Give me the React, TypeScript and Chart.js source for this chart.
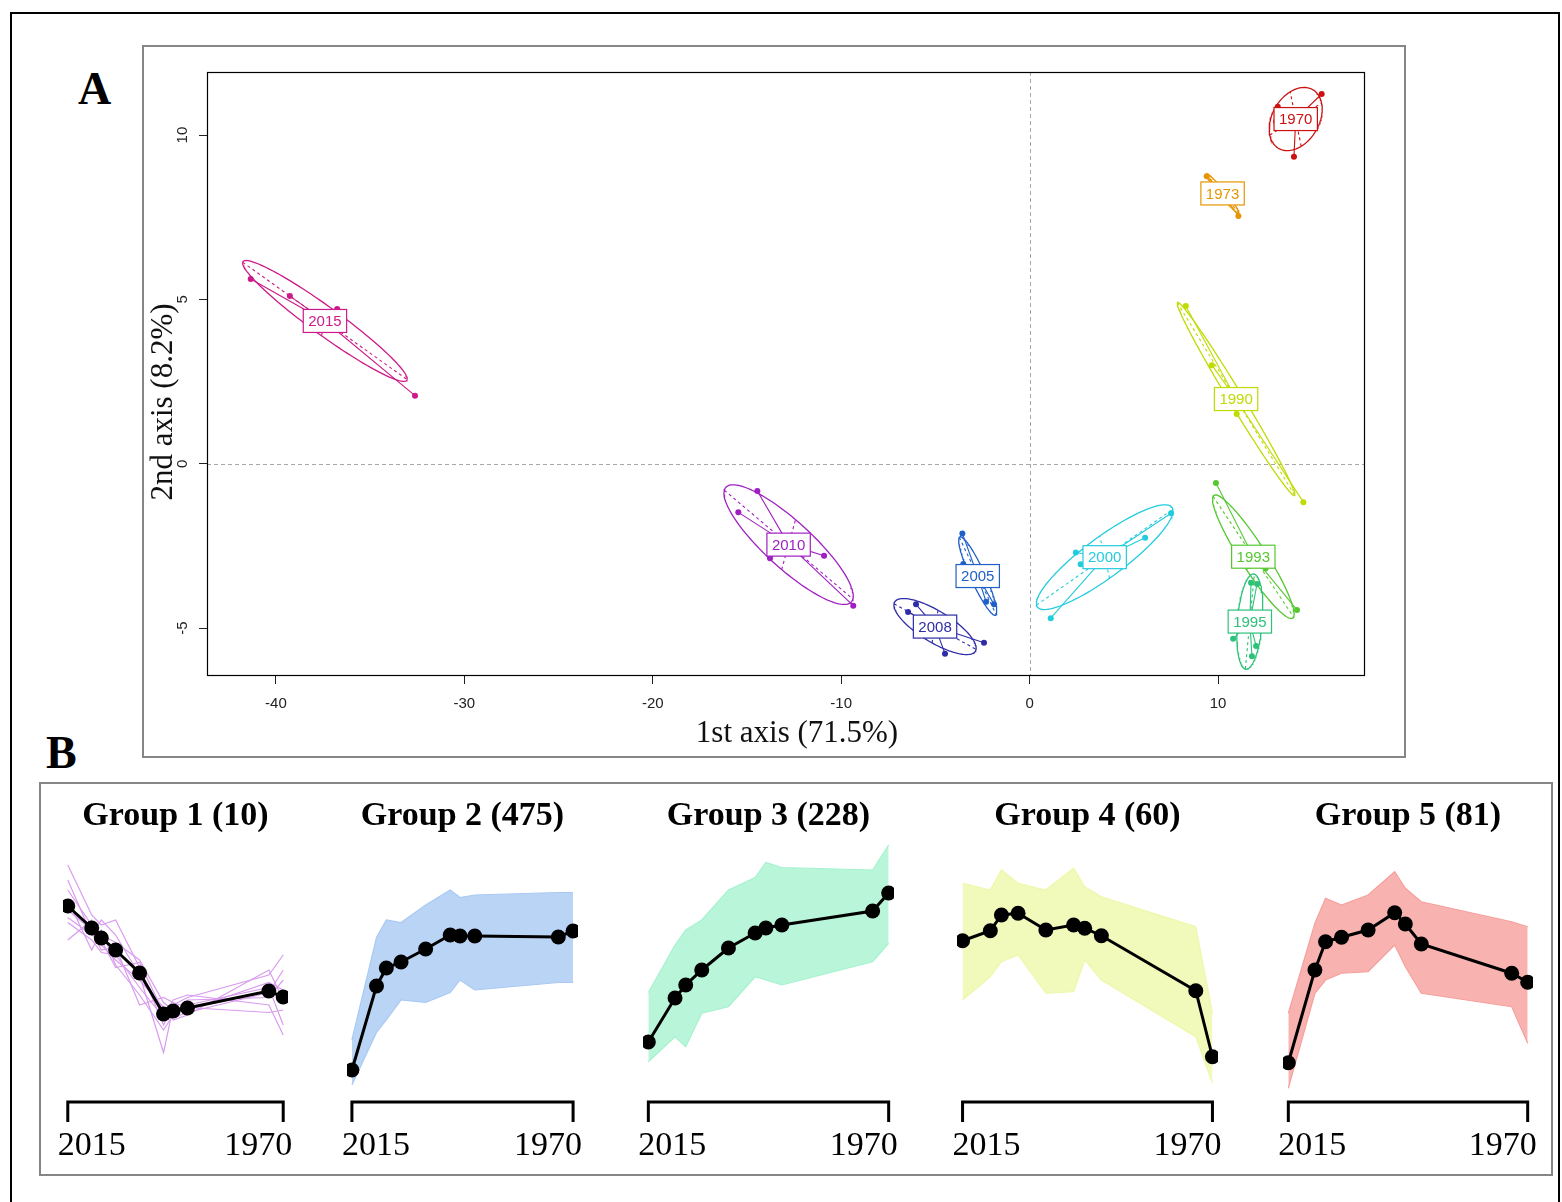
import React, { useEffect, useRef } from 'react';
import { Chart, registerables } from 'chart.js';
Chart.register(...registerables);

const SANS = "'Liberation Sans', Arial, Helvetica, sans-serif";
const SERIF = "'Liberation Serif', 'Times New Roman', Times, serif";

// ---------------- Panel A data (site scores per survey year) ----------------
const CLASS_LABELS = ['2015', '2010', '2008', '2005', '2000', '1995', '1993', '1990', '1973', '1970'];
const CLASS_COLORS = ['#CC1A88', '#A01FC2', '#2E2CA8', '#1F5FC8', '#22CCDD', '#2CC27A', '#55C830', '#BFDB00', '#E69500', '#CC1111'];
const PTS_2015 = [[-41.34, 5.62], [-39.26, 5.10], [-36.75, 4.71], [-32.62, 2.07], [-37.03, 4.22]];
const PTS_2010 = [[-14.45, -0.83], [-15.46, -1.48], [-10.91, -2.80], [-13.78, -2.88], [-9.36, -4.32]];
const PTS_2008 = [[-6.03, -4.28], [-2.42, -5.45], [-4.49, -5.78], [-6.45, -4.51], [-5.71, -4.76]];
const PTS_2005 = [[-3.57, -2.12], [-2.31, -4.20], [-1.89, -4.28], [-3.52, -3.05], [-2.48, -3.44]];
const PTS_2000 = [[7.51, -1.51], [6.13, -2.25], [2.45, -2.70], [2.71, -3.06], [1.12, -4.70]];
const PTS_1995 = [[11.75, -3.62], [10.80, -5.33], [12.02, -5.55], [11.80, -5.86], [12.07, -3.66]];
const PTS_1993 = [[9.89, -0.59], [14.19, -4.45], [11.06, -2.81], [11.70, -3.11], [12.52, -3.19]];
const PTS_1990 = [[8.29, 4.80], [9.67, 3.00], [10.99, 1.51], [14.53, -1.17], [11.31, 1.70]];
const PTS_1973 = [[9.40, 8.75], [11.08, 7.54], [9.84, 8.43], [10.32, 8.30], [10.56, 8.10]];
const PTS_1970 = [[15.50, 11.25], [14.03, 9.34], [13.17, 10.86], [14.83, 10.58], [13.08, 10.41]];
const CLASS_POINTS = [PTS_2015, PTS_2010, PTS_2008, PTS_2005, PTS_2000, PTS_1995, PTS_1993, PTS_1990, PTS_1973, PTS_1970];
const X_TICKS = [-40, -30, -20, -10, 0, 10];
const Y_TICKS = [-5, 0, 5, 10];
const X_TITLE = '1st axis (71.5%)';
const Y_TITLE = '2nd axis (8.2%)';

// ---------------- Panel B data (standardised profiles) ----------------
const YEARS = [2015, 2010, 2008, 2005, 2000, 1995, 1993, 1990, 1973, 1970];
const AXIS_END_LABELS = ['2015', '1970'];
const GROUP_TITLES = ['Group 1 (10)', 'Group 2 (475)', 'Group 3 (228)', 'Group 4 (60)', 'Group 5 (81)'];
const GROUP_COLORS = ['#D99BEF', '#A9C9F4', '#A6F2CF', '#EEF7AA', '#F6A09D'];
const GROUP_FILLS = ['rgba(217,155,239,0.8)', 'rgba(169,201,244,0.8)', 'rgba(166,242,207,0.8)', 'rgba(238,247,170,0.8)', 'rgba(246,160,157,0.8)'];

const G1_MEAN = [77.6, 68.8, 64.8, 60, 50.8, 34.4, 35.6, 36.8, 43.6, 41.2];
const G1_LINES = [
  [94, 74, 70, 72, 53, 30, 38, 41, 50, 58],
  [84, 70, 66, 63, 56, 39, 36, 38, 45, 30],
  [73, 66, 72, 66, 50, 19, 37, 36, 47, 44],
  [71, 64, 59, 58, 45, 33, 40, 42, 38, 26],
  [64, 72, 62, 56, 48, 37, 32, 34, 52, 40],
  [80, 60, 68, 54, 42, 28, 34, 40, 41, 48],
  [76, 68, 60, 61, 38, 41, 39, 37, 35, 36],
  [88, 66, 64, 53, 55, 35, 33, 35, 43, 52],
];
const G2_MEAN = [12, 45.6, 52.8, 55.2, 60.4, 66, 65.6, 65.6, 65.2, 67.6];
const G2_UPPER = [24, 65, 72, 71, 78, 84, 81, 82, 83, 83];
const G2_LOWER = [6, 27, 32, 40, 39, 43, 48, 44, 47, 47];
const G3_MEAN = [23.2, 40.8, 46, 52, 60.8, 66.8, 68.8, 70, 75.6, 82.8];
const G3_UPPER = [43, 62, 68, 72, 84, 89, 95, 93, 92, 102];
const G3_LOWER = [15.3, 25.3, 21.3, 34.7, 37.3, 49.3, 48, 46, 55.3, 62.7];
const G4_MEAN = [63.7, 67.7, 74, 74.7, 68, 70, 68.7, 65.7, 43.7, 17.3];
const G4_UPPER = [86.7, 84, 92, 86.7, 84, 92.7, 85.3, 81.3, 69.3, 34.7];
const G4_LOWER = [40, 49.3, 55.3, 58, 42.7, 43.3, 56, 48, 25.3, 6.7];
const G5_MEAN = [14.9, 52, 63.3, 65.1, 68, 74.9, 70.4, 62.4, 50.7, 47.1];
const G5_UPPER = [34.7, 70.7, 80.7, 78, 82, 91.3, 84.7, 79.3, 71.3, 69.3];
const G5_LOWER = [4.7, 42.7, 48, 50.7, 51.3, 62, 53.3, 42.7, 37.3, 22.7];
const GROUP_MEANS = [G1_MEAN, G2_MEAN, G3_MEAN, G4_MEAN, G5_MEAN];
const GROUP_BANDS = [null, [G2_LOWER, G2_UPPER], [G3_LOWER, G3_UPPER], [G4_LOWER, G4_UPPER], [G5_LOWER, G5_UPPER]];

// layout (page pixels) of each small chart's plotting region
const GROUP_AREAS = [[63.2, 287.8], [347.1, 577.9], [642.7, 893.3], [957.4, 1218.6], [1282.7, 1532.3]];

// ---------------- helpers ----------------
function ellipseOf(pts: number[][]) {
  const n = pts.length;
  let mx = 0, my = 0;
  pts.forEach(p => { mx += p[0]; my += p[1]; });
  mx /= n; my /= n;
  let sxx = 0, syy = 0, sxy = 0;
  pts.forEach(p => {
    const dx = p[0] - mx, dy = p[1] - my;
    sxx += dx * dx; syy += dy * dy; sxy += dx * dy;
  });
  sxx /= n; syy /= n; sxy /= n;
  const tr = sxx + syy, det = sxx * syy - sxy * sxy;
  const disc = Math.sqrt(Math.max(tr * tr / 4 - det, 0));
  const l1 = tr / 2 + disc, l2 = Math.max(tr / 2 - disc, 0);
  let vx = 1, vy = 0;
  if (Math.abs(sxy) > 1e-12) { vx = l1 - syy; vy = sxy; }
  else if (syy > sxx) { vx = 0; vy = 1; }
  const nn = Math.hypot(vx, vy); vx /= nn; vy /= nn;
  const a = 1.5 * Math.sqrt(l1), b = 1.5 * Math.sqrt(l2);
  const ax = [vx * a, vy * a], bx = [-vy * b, vx * b];
  const curve: { x: number; y: number }[] = [];
  for (let i = 0; i <= 120; i++) {
    const t = (i / 120) * Math.PI * 2;
    curve.push({ x: mx + Math.cos(t) * ax[0] + Math.sin(t) * bx[0], y: my + Math.cos(t) * ax[1] + Math.sin(t) * bx[1] });
  }
  return { cx: mx, cy: my, curve, ax, bx };
}

function series(vals: number[]) {
  return YEARS.map((x, i) => ({ x, y: vals[i] }));
}

// ---------------- Panel A ----------------
function PanelA() {
  const ref = useRef<HTMLCanvasElement | null>(null);
  useEffect(() => {
    if (!ref.current) return;
    const datasets: any[] = [];
    const centers: { x: number; y: number; label: string; color: string }[] = [];
    CLASS_POINTS.forEach((pts, k) => {
      const color = CLASS_COLORS[k];
      const e = ellipseOf(pts);
      centers.push({ x: e.cx, y: e.cy, label: CLASS_LABELS[k], color });
      datasets.push({ data: e.curve, borderColor: color, borderWidth: 1.3, pointRadius: 0, fill: false, order: 3 });
      datasets.push({
        data: [
          { x: e.cx - e.ax[0], y: e.cy - e.ax[1] }, { x: e.cx + e.ax[0], y: e.cy + e.ax[1] },
          { x: null, y: null },
          { x: e.cx - e.bx[0], y: e.cy - e.bx[1] }, { x: e.cx + e.bx[0], y: e.cy + e.bx[1] },
        ],
        borderColor: color, borderWidth: 1.1, borderDash: [3, 3], pointRadius: 0, fill: false, spanGaps: false, order: 3,
      });
      const star: any[] = [];
      pts.forEach(p => { star.push({ x: e.cx, y: e.cy }, { x: p[0], y: p[1] }, { x: null, y: null }); });
      datasets.push({ data: star, borderColor: color, borderWidth: 1.1, pointRadius: 0, fill: false, spanGaps: false, order: 2 });
      datasets.push({
        data: pts.map(p => ({ x: p[0], y: p[1] })), showLine: false, pointRadius: 3, pointBorderWidth: 0,
        pointBackgroundColor: color, borderColor: color, order: 1,
      });
    });

    const plugin = {
      id: 'panelA',
      beforeDatasetsDraw(chart: any) {
        const { ctx, chartArea: ca, scales } = chart;
        ctx.save();
        ctx.strokeStyle = '#a8a8a8'; ctx.lineWidth = 1; ctx.setLineDash([4, 3]);
        const x0 = Math.round(scales.x.getPixelForValue(0)) + 0.5;
        const y0 = Math.round(scales.y.getPixelForValue(0)) + 0.5;
        ctx.beginPath(); ctx.moveTo(x0, ca.top); ctx.lineTo(x0, ca.bottom); ctx.stroke();
        ctx.beginPath(); ctx.moveTo(ca.left, y0); ctx.lineTo(ca.right, y0); ctx.stroke();
        ctx.restore();
      },
      afterDatasetsDraw(chart: any) {
        const { ctx, scales } = chart;
        ctx.save();
        ctx.font = `15px ${SANS}`;
        ctx.textAlign = 'center'; ctx.textBaseline = 'middle';
        centers.forEach(c => {
          const px = scales.x.getPixelForValue(c.x), py = scales.y.getPixelForValue(c.y);
          const w = ctx.measureText(c.label).width + 10, h = 23;
          ctx.fillStyle = '#fff';
          ctx.fillRect(px - w / 2, py - h / 2, w, h);
          ctx.strokeStyle = c.color; ctx.lineWidth = 1.2;
          ctx.strokeRect(px - w / 2, py - h / 2, w, h);
          ctx.fillStyle = c.color;
          ctx.fillText(c.label, px, py + 1);
        });
        ctx.restore();
      },
      afterDraw(chart: any) {
        const { ctx, chartArea: ca, scales } = chart;
        ctx.save();
        ctx.strokeStyle = '#000'; ctx.lineWidth = 1.2;
        ctx.strokeRect(ca.left + 0.5, ca.top + 0.5, ca.right - ca.left - 1, ca.bottom - ca.top - 1);
        ctx.fillStyle = '#222'; ctx.font = `15px ${SANS}`;
        ctx.textAlign = 'center'; ctx.textBaseline = 'middle';
        Y_TICKS.forEach(v => {
          const py = scales.y.getPixelForValue(v);
          ctx.save(); ctx.translate(38, py); ctx.rotate(-Math.PI / 2); ctx.fillText(String(v), 0, 0); ctx.restore();
        });
        ctx.fillStyle = '#111'; ctx.font = `31px ${SERIF}`; ctx.textBaseline = 'alphabetic';
        ctx.fillText(X_TITLE, 652, 694);
        ctx.save(); ctx.translate(27, 354); ctx.rotate(-Math.PI / 2); ctx.fillText(Y_TITLE, 0, 0); ctx.restore();
        ctx.restore();
      },
    };

    const chart = new Chart(ref.current, {
      type: 'line',
      data: { datasets },
      plugins: [plugin],
      options: {
        animation: false, responsive: false, maintainAspectRatio: false,
        layout: { padding: { left: 0, top: 24, right: 38, bottom: 0 } },
        plugins: { legend: { display: false }, tooltip: { enabled: false }, title: { display: false } },
        elements: { line: { tension: 0 } },
        scales: {
          x: {
            type: 'linear', min: -43.66, max: 17.8,
            afterFit: (s: any) => { s.height = 80; },
            afterBuildTicks: (s: any) => { s.ticks = X_TICKS.map(v => ({ value: v })); },
            grid: { drawOnChartArea: false, drawTicks: true, tickLength: 8, color: '#222', lineWidth: 1 },
            border: { display: false },
            ticks: { font: { family: SANS, size: 15 }, color: '#222', padding: 11, maxRotation: 0, autoSkip: false, callback: (v: any) => String(v) },
          },
          y: {
            type: 'linear', min: -6.46, max: 11.92,
            afterFit: (s: any) => { s.width = 62; },
            afterBuildTicks: (s: any) => { s.ticks = Y_TICKS.map(v => ({ value: v })); },
            grid: { drawOnChartArea: false, drawTicks: true, tickLength: 8, color: '#222', lineWidth: 1 },
            border: { display: false },
            ticks: { display: false },
          },
        },
      } as any,
    });
    return () => chart.destroy();
  }, []);
  return <canvas ref={ref} width={1258} height={708} style={{ position: 'absolute', left: 145, top: 48, width: 1258, height: 708 }} />;
}

// ---------------- Panel B small chart ----------------
function GroupChart({ idx }: { idx: number }) {
  const ref = useRef<HTMLCanvasElement | null>(null);
  const [aL, aR] = GROUP_AREAS[idx];
  const pad = 40;
  const width = aR - aL + 2 * pad;
  useEffect(() => {
    if (!ref.current) return;
    const color = GROUP_COLORS[idx];
    const clip = { left: 0, right: 0, top: 60, bottom: 20 };
    const datasets: any[] = [];
    const band = GROUP_BANDS[idx];
    if (band) {
      datasets.push({ data: series(band[0]), borderColor: color, borderWidth: 1.2, pointRadius: 0, fill: false, order: 2, clip });
      datasets.push({ data: series(band[1]), borderColor: color, borderWidth: 1.2, pointRadius: 0, fill: '-1', backgroundColor: GROUP_FILLS[idx], order: 2, clip });
    } else {
      G1_LINES.forEach(l => datasets.push({ data: series(l), borderColor: color, borderWidth: 1.2, pointRadius: 0, fill: false, order: 2, clip }));
    }
    datasets.push({
      data: series(GROUP_MEANS[idx]), borderColor: '#000', borderWidth: 3, pointRadius: 7.5,
      pointBackgroundColor: '#000', pointBorderColor: '#000', pointBorderWidth: 0, fill: false, order: 0, clip,
    });
    const plugin = {
      id: 'groupDeco',
      afterDraw(chart: any) {
        const { ctx, chartArea: ca, scales } = chart;
        const x0 = scales.x.getPixelForValue(YEARS[0]);
        const x1 = scales.x.getPixelForValue(YEARS[YEARS.length - 1]);
        ctx.save();
        ctx.fillStyle = '#000';
        ctx.font = `bold 34px ${SERIF}`; ctx.textAlign = 'center'; ctx.textBaseline = 'alphabetic';
        ctx.fillText(GROUP_TITLES[idx], (ca.left + ca.right) / 2, 35);
        ctx.strokeStyle = '#000'; ctx.lineWidth = 3; ctx.lineJoin = 'miter';
        ctx.beginPath(); ctx.moveTo(x0, 332); ctx.lineTo(x0, 312); ctx.lineTo(x1, 312); ctx.lineTo(x1, 332); ctx.stroke();
        ctx.font = `34px ${SERIF}`;
        ctx.textAlign = 'left'; ctx.fillText(AXIS_END_LABELS[0], x0 - 10, 365);
        ctx.textAlign = 'right'; ctx.fillText(AXIS_END_LABELS[1], x1 + 9, 365);
        ctx.restore();
      },
    };
    const chart = new Chart(ref.current, {
      type: 'line',
      data: { datasets },
      plugins: [plugin],
      options: {
        animation: false, responsive: false, maintainAspectRatio: false,
        layout: { padding: { left: pad, right: pad, top: 35, bottom: 70 } },
        plugins: { legend: { display: false }, tooltip: { enabled: false } },
        elements: { line: { tension: 0 } },
        scales: {
          x: { type: 'linear', reverse: true, min: 1969, max: 2016, display: false },
          y: { type: 'linear', min: 0, max: 110, display: false },
        },
      } as any,
    });
    return () => chart.destroy();
  }, [idx]);
  return <canvas ref={ref} width={Math.round(width)} height={380} style={{ position: 'absolute', left: aL - pad, top: 790, width: Math.round(width), height: 380 }} />;
}

export default function App() {
  return (
    <div style={{ position: 'absolute', left: 0, top: 0, width: 1562, height: 1202, overflow: 'hidden', background: '#fff' }}>
      <div style={{ position: 'absolute', left: 10, top: 12, width: 1550, height: 1260, border: '2px solid #000', boxSizing: 'border-box' }} />
      <div style={{ position: 'absolute', left: 142, top: 45, width: 1264, height: 713, border: '2.5px solid #868686', boxSizing: 'border-box' }} />
      <div style={{ position: 'absolute', left: 39, top: 782, width: 1514, height: 394, border: '2.5px solid #868686', boxSizing: 'border-box' }} />
      <div style={{ position: 'absolute', left: 78, top: 66, fontFamily: SERIF, fontWeight: 'bold', fontSize: 46, lineHeight: 1 }}>A</div>
      <div style={{ position: 'absolute', left: 46, top: 730, fontFamily: SERIF, fontWeight: 'bold', fontSize: 46, lineHeight: 1 }}>B</div>
      <PanelA />
      {GROUP_TITLES.map((_, i) => <GroupChart key={i} idx={i} />)}
    </div>
  );
}
